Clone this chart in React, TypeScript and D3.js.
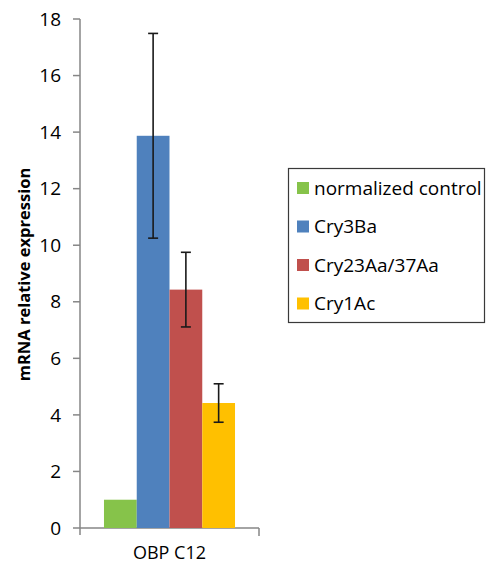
import * as d3 from 'd3';

const categories = ['OBP C12'];
const seriesNames = ['normalized control', 'Cry3Ba', 'Cry23Aa/37Aa', 'Cry1Ac'];
const seriesValues = [1.0, 13.87, 8.43, 4.42];
const seriesErrors = [0, 3.62, 1.32, 0.68];
const yTicks = [0, 2, 4, 6, 8, 10, 12, 14, 16, 18];

const COLORS = ['#86c34a', '#4f81bd', '#c0504d', '#ffc000'];
const FONT = '"Open Sans", "Liberation Sans", sans-serif';

export default function App() {
  const width = 486;
  const height = 566;
  const left = 80;
  const right = 259;
  const top = 19;
  const bottom = 528;

  const y = d3.scaleLinear().domain([0, 18]).range([bottom, top]);
  const x0 = d3.scaleBand().domain(categories).range([left, right]).paddingInner(0).paddingOuter(0.183);
  const x1 = d3.scaleBand().domain(seriesNames).range([0, x0.bandwidth()]).padding(0);

  const axisColor = '#868686';

  return (
    <svg width={width} height={height} style={{ position: 'absolute', left: 0, top: 0 }} fontFamily={FONT}>
      <rect width={width} height={height} fill="#ffffff" />

      {/* y axis */}
      <line x1={left} x2={left} y1={top} y2={bottom + 7} stroke={axisColor} strokeWidth="1.5" />
      {yTicks.map((t) => (
        <g key={t}>
          <line x1={left - 7} x2={left} y1={y(t)} y2={y(t)} stroke={axisColor} strokeWidth="1.5" />
          <text x={left - 19} y={y(t)} dy="0.35em" textAnchor="end" fontSize="19" fill="#000">
            {t}
          </text>
        </g>
      ))}

      {/* x axis */}
      <line x1={left} x2={right} y1={bottom} y2={bottom} stroke={axisColor} strokeWidth="1.5" />
      <line x1={right} x2={right} y1={bottom} y2={bottom + 8} stroke={axisColor} strokeWidth="1.5" />

      {categories.map((cat) => (
        <g key={cat} transform={`translate(${x0(cat)},0)`}>
          {seriesNames.map((name, i) => (
            <rect
              key={name}
              x={x1(name)}
              y={y(seriesValues[i])}
              width={x1.bandwidth()}
              height={y(0) - y(seriesValues[i])}
              fill={COLORS[i]}
            />
          ))}
          {seriesNames.map((name, i) => {
            if (!seriesErrors[i]) return null;
            const cx = (x1(name) ?? 0) + x1.bandwidth() / 2;
            const hi = y(seriesValues[i] + seriesErrors[i]);
            const lo = y(seriesValues[i] - seriesErrors[i]);
            return (
              <g key={`${name}-err`} stroke="#1a1a1a" strokeWidth="1.6">
                <line x1={cx} x2={cx} y1={hi} y2={lo} />
                <line x1={cx - 5} x2={cx + 5} y1={hi} y2={hi} />
                <line x1={cx - 5} x2={cx + 5} y1={lo} y2={lo} />
              </g>
            );
          })}
          <text x={x0.bandwidth() / 2} y={553} dy="0.35em" textAnchor="middle" fontSize="18" fill="#000">
            {cat}
          </text>
        </g>
      ))}

      {/* y axis title */}
      <text
        transform={`translate(24,${(top + bottom) / 2 + 1}) rotate(-90)`}
        textAnchor="middle"
        dy="0.35em"
        fontSize="16.5"
        fontWeight="bold"
        fill="#000"
      >
        mRNA relative expression
      </text>

      {/* legend */}
      <g>
        <rect x={288.5} y={168.5} width={196} height={154} fill="#ffffff" stroke="#3a3a3a" strokeWidth="1.2" />
        {seriesNames.map((name, i) => (
          <g key={name} transform={`translate(297, ${188 + i * 38.5})`}>
            <rect x={0} y={-6} width={12} height={12} fill={COLORS[i]} />
            <text x={17} y={0} dy="0.35em" fontSize="19" fill="#000">
              {name}
            </text>
          </g>
        ))}
      </g>
    </svg>
  );
}
